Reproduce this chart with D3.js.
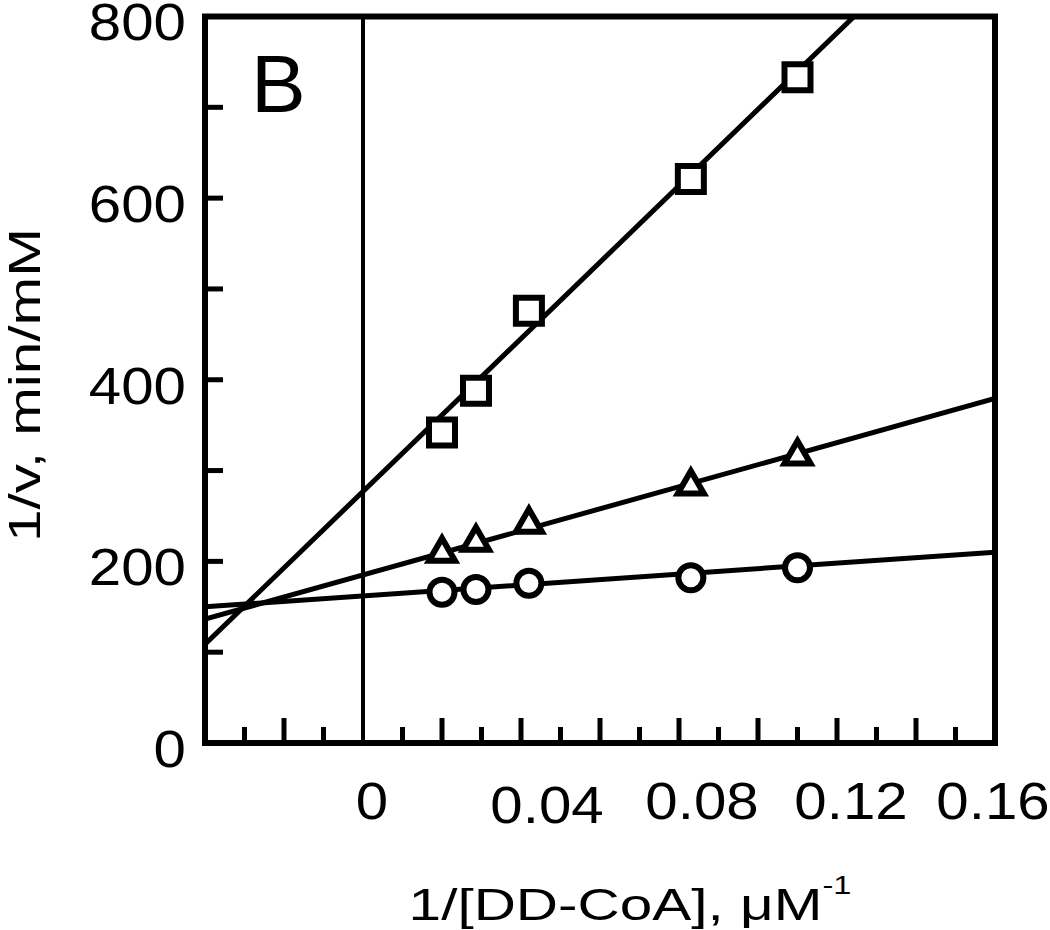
<!DOCTYPE html>
<html>
<head>
<meta charset="utf-8">
<script src="https://cdn.jsdelivr.net/npm/d3@7"></script>
<style>
  html, body { margin: 0; padding: 0; background: #fff; }
  svg { display: block; font-family: Arial, "Liberation Sans", sans-serif; }
</style>
</head>
<body>
<svg id="chart" width="1050" height="930"></svg>
<script>
// ---------------- data ----------------
const xInv = [0.0200, 0.0286, 0.0420, 0.0830, 0.1100];      // 1/[DD-CoA], µM^-1
const squareVals   = [342, 388, 476, 621, 733];
const triangleVals = [209, 221, 241, 283, 316];
const circleVals   = [166, 169, 176, 182, 193];
// fitted lines (intercept, slope)
const squareFit   = [277, 4207];
const triangleFit = [185, 1215];
const circleFit   = [162, 300];

const xMinorTicks = [-0.03, -0.01, 0.01, 0.03, 0.05, 0.07, 0.09, 0.11, 0.13, 0.15];
const xMajorTicks = [-0.02, 0.02, 0.04, 0.06, 0.08, 0.10, 0.12, 0.14];
const xTickLabels = [0, 0.04, 0.08, 0.12, 0.16];
const xTickLabelText = ["0", "0.04", "0.08", "0.12", "0.16"];
const yTicks = [100, 200, 300, 400, 500, 600, 700];
const yTickLabels = [0, 200, 400, 600, 800];

// ---------------- layout ----------------
const pL = 205, pR = 995, pT = 16.5, pB = 743;
const labelDx = [9, 26, 23, 14, -2];   // label offsets as drawn in the original
const labelDy = [0, 4, 0, 0, 0];

const svg = d3.select("#chart");
const x = d3.scaleLinear().domain([-0.04, 0.16]).range([pL, pR]);
const y = d3.scaleLinear().domain([0, 800]).range([pB, pT]);

svg.append("defs").append("clipPath").attr("id", "plotClip")
  .append("rect").attr("x", pL).attr("y", pT)
  .attr("width", pR - pL).attr("height", pB - pT);

// zero line
svg.append("line")
  .attr("x1", x(0)).attr("x2", x(0)).attr("y1", y(800)).attr("y2", y(0))
  .attr("stroke", "#000").attr("stroke-width", 4);

// fitted lines
const fits = [squareFit, triangleFit, circleFit];
const lineGen = d3.line().x(d => x(d[0])).y(d => y(d[1]));
const gLines = svg.append("g").attr("clip-path", "url(#plotClip)");
fits.forEach(f => {
  const dom = x.domain();
  gLines.append("path")
    .attr("d", lineGen(dom.map(v => [v, f[0] + f[1] * v])))
    .attr("fill", "none").attr("stroke", "#000").attr("stroke-width", 5);
});

// ticks
const gT = svg.append("g").attr("stroke", "#000").attr("stroke-width", 5);
xMinorTicks.forEach(v => gT.append("line")
  .attr("x1", x(v)).attr("x2", x(v)).attr("y1", pB).attr("y2", pB - 16));
xMajorTicks.forEach(v => gT.append("line")
  .attr("x1", x(v)).attr("x2", x(v)).attr("y1", pB).attr("y2", pB - 25));
yTicks.forEach(v => gT.append("line")
  .attr("x1", pL).attr("x2", pL + 18).attr("y1", y(v)).attr("y2", y(v)));

// frame
svg.append("rect")
  .attr("x", pL).attr("y", pT).attr("width", pR - pL).attr("height", pB - pT)
  .attr("fill", "none").attr("stroke", "#000").attr("stroke-width", 6);

// markers
const series = [
  {vals: squareVals, sym: d3.symbolSquare, size: 676},
  {vals: triangleVals, sym: d3.symbolTriangle, size: 293},
  {vals: circleVals, sym: d3.symbolCircle, size: 491}
];
series.forEach(s => {
  svg.append("g").selectAll("path").data(s.vals).join("path")
    .attr("d", d3.symbol().type(s.sym).size(s.size))
    .attr("transform", (d, i) => `translate(${x(xInv[i])},${y(d)})`)
    .attr("fill", "#fff").attr("stroke", "#000").attr("stroke-width", 6)
    .attr("stroke-linejoin", "miter");
});

// tick labels
const sx = 1.12;
xTickLabels.forEach((v, i) => {
  svg.append("text")
    .attr("transform", `translate(${x(v) + labelDx[i]},${819 + labelDy[i]}) scale(${sx},1)`)
    .attr("text-anchor", "middle").attr("font-size", 52).attr("fill", "#000")
    .text(xTickLabelText[i]);
});
yTickLabels.forEach(v => {
  svg.append("text")
    .attr("transform", `translate(186,${y(v)}) scale(${sx},1)`)
    .attr("dy", "0.46em")
    .attr("text-anchor", "end").attr("font-size", 52).attr("fill", "#000")
    .text(v);
});

// axis titles
const xt = svg.append("text")
  .attr("transform", "translate(630,920) scale(1.3,1)")
  .attr("text-anchor", "middle").attr("font-size", 45).attr("fill", "#000");
xt.append("tspan").text("1/[DD-CoA], μM");
xt.append("tspan").attr("font-size", 25).attr("dy", -26).text("-1");

svg.append("text")
  .attr("transform", "translate(40,385) rotate(-90) scale(1.3,1)")
  .attr("text-anchor", "middle").attr("font-size", 45).attr("fill", "#000")
  .text("1/v, min/mM");

// panel label
svg.append("text")
  .attr("x", 251).attr("y", 112)
  .attr("font-size", 82).attr("fill", "#000")
  .text("B");
</script>
</body>
</html>
